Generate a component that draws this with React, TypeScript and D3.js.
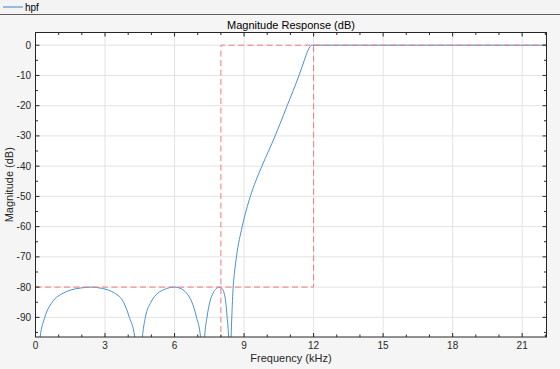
import React from 'react'
import * as d3 from 'd3'

// magnitude response of the hpf (kHz, dB)
const freqKhz = [
  0, 0.1, 0.2, 0.4, 0.72, 1.2, 1.5, 1.95, 2.4, 2.85, 3.15, 3.42, 3.8, 4.05, 4.28, 4.38, 4.45,
  4.52, 4.61, 4.74, 4.98, 5.28, 5.55, 6.0, 6.3, 6.52, 6.75, 6.95, 7.12, 7.18, 7.22,
  7.26, 7.3, 7.4, 7.52, 7.66, 7.8, 7.95, 8.05, 8.14, 8.21, 8.27, 8.33, 8.36, 8.385,
  8.41, 8.44, 8.47, 8.53, 8.59, 8.67, 8.92, 9.27, 9.5, 9.77, 10.34, 10.86, 11.37, 11.6, 11.74, 11.84, 11.93,
  12.5, 16, 22.05,
]
const magDb = [
  -140, -104, -96.5, -90, -85, -82, -81, -80.3, -80, -80.4, -81, -82, -85, -90, -96.5, -104, -140,
  -104, -96.5, -90, -85, -82, -80.8, -80, -80.6, -82, -85, -90, -96.5, -104, -140,
  -104, -96.5, -90, -85, -82, -80.5, -80, -80.5, -82, -85, -90, -96.5, -104, -140,
  -104, -96.5, -90, -80, -75, -70, -60, -50, -45, -40, -30, -20, -10, -5, -2, -0.6, 0,
  0, 0, 0,
]

// specification mask
const stopMaskFreq = [0, 12, 12]
const stopMaskDb = [-80, -80, 0]
const passMaskFreq = [8, 8, 22.05]
const passMaskDb = [-120, 0, 0]

const xTicks = [0, 3, 6, 9, 12, 15, 18, 21]
const xMinor = d3.range(0, 23, 1)
const yTicks = [0, -10, -20, -30, -40, -50, -60, -70, -80, -90]
const yMinor = [5, 0, -5, -10, -15, -20, -25, -30, -35, -40, -45, -50, -55, -60, -65, -70, -75, -80, -85, -90, -95]

const W = 560
const H = 369
const left = 35.5
const right = 546.5
const top = 32.5
const bottom = 337

const font = '"Liberation Sans", Arial, sans-serif'
const ink = '#262626'

export default function App() {
  const x = d3.scaleLinear().domain([0, 22.05]).range([left, right])
  const y = d3.scaleLinear().domain([-96.5, 4.2]).range([bottom, top])

  const curve = d3
    .line<[number, number]>()
    .x(d => x(d[0]))
    .y(d => y(d[1]))
    .curve(d3.curveMonotoneX)(freqKhz.map((f, i) => [f, magDb[i]]))

  const straight = d3
    .line<[number, number]>()
    .x(d => x(d[0]))
    .y(d => y(d[1]))
  const stopMask = straight(stopMaskFreq.map((f, i) => [f, stopMaskDb[i]]))
  const passMask = straight(passMaskFreq.map((f, i) => [f, passMaskDb[i]]))

  const xMinorIn = xMinor.filter(v => v <= 22.05)
  const yMinorIn = yMinor.filter(v => v <= 4.2 && v >= -96.5)

  return (
    <svg
      width={W}
      height={H}
      style={{ position: 'fixed', left: 0, top: 0, background: '#f5f5f5' }}
      fontFamily={font}
    >
      <defs>
        <clipPath id="plot">
          <rect x={left} y={top} width={right - left} height={bottom - top} />
        </clipPath>
      </defs>

      {/* legend strip */}
      <rect x={0} y={0} width={W} height={14.5} fill="#f3f3f3" />
      <line x1={0} x2={W} y1={14.5} y2={14.5} stroke="#5e5e5e" strokeWidth={1} />
      <line x1={3} x2={23} y1={7} y2={7} stroke="#3b82c4" strokeWidth={1} />
      <text x={25} y={10.5} fontSize={10} fill="#000">hpf</text>

      {/* plot area */}
      <rect x={left} y={top} width={right - left} height={bottom - top} fill="#fff" />

      {/* grid */}
      {xTicks.map(t => (
        <line key={'gx' + t} x1={x(t)} x2={x(t)} y1={top} y2={bottom} stroke="#e3e3e3" strokeWidth={1} />
      ))}
      {yTicks.map(t => (
        <line key={'gy' + t} x1={left} x2={right} y1={y(t)} y2={y(t)} stroke="#e3e3e3" strokeWidth={1} />
      ))}

      <g clipPath="url(#plot)">
        <path d={curve ?? ''} fill="none" stroke="#4a90d0" strokeWidth={1} />
        <path d={stopMask ?? ''} fill="none" stroke="#f47a7a" strokeWidth={1} strokeDasharray="6 3.5" />
        <path d={passMask ?? ''} fill="none" stroke="#f47a7a" strokeWidth={1} strokeDasharray="6 3.5" />
      </g>

      {/* box */}
      <rect x={left} y={top} width={right - left} height={bottom - top} fill="none" stroke={ink} strokeWidth={1} />

      {/* ticks */}
      {xMinorIn.map(t => (
        <g key={'xt' + t}>
          <line x1={x(t)} x2={x(t)} y1={bottom} y2={bottom - (xTicks.includes(t) ? 4 : 2.5)} stroke={ink} />
          <line x1={x(t)} x2={x(t)} y1={top} y2={top + (xTicks.includes(t) ? 4 : 2.5)} stroke={ink} />
        </g>
      ))}
      {yMinorIn.map(t => (
        <g key={'yt' + t}>
          <line x1={left} x2={left + (yTicks.includes(t) ? 4 : 2.5)} y1={y(t)} y2={y(t)} stroke={ink} />
          <line x1={right} x2={right - (yTicks.includes(t) ? 4 : 2.5)} y1={y(t)} y2={y(t)} stroke={ink} />
        </g>
      ))}

      {/* tick labels */}
      {xTicks.map(t => (
        <text key={'xl' + t} x={x(t)} y={bottom + 12} fontSize={10} fill={ink} textAnchor="middle">
          {t}
        </text>
      ))}
      {yTicks.map(t => (
        <text key={'yl' + t} x={left - 4.5} y={y(t) + 3.5} fontSize={10} fill={ink} textAnchor="end">
          {t}
        </text>
      ))}

      {/* labels */}
      <text x={(left + right) / 2} y={29} fontSize={11} fill="#000" textAnchor="middle">
        Magnitude Response (dB)
      </text>
      <text x={(left + right) / 2} y={362} fontSize={11} fill={ink} textAnchor="middle">
        Frequency (kHz)
      </text>
      <text
        transform={`translate(13, ${(top + bottom) / 2}) rotate(-90)`}
        fontSize={11}
        fill={ink}
        textAnchor="middle"
      >
        Magnitude (dB)
      </text>
    </svg>
  )
}
